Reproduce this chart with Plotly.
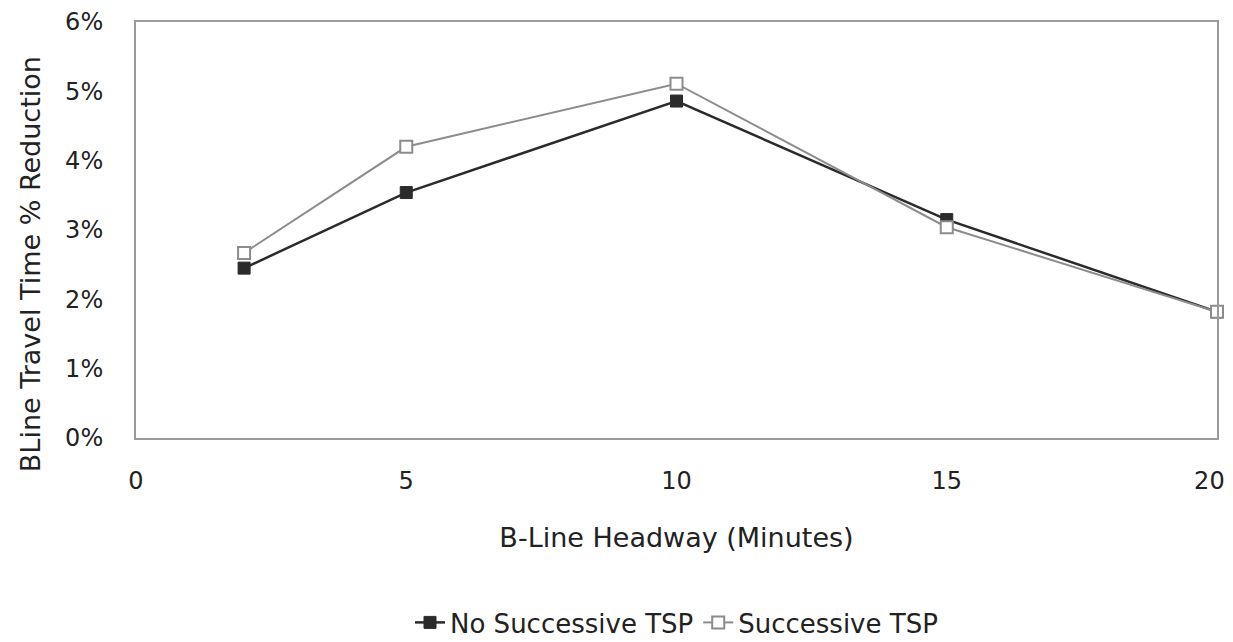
import plotly.graph_objects as go

headway = [2, 5, 10, 15, 20]
no_successive = [0.0245, 0.0354, 0.0486, 0.0315, 0.0182]
successive = [0.0267, 0.0420, 0.0511, 0.0304, 0.0182]
y_ticks = [0, 0.01, 0.02, 0.03, 0.04, 0.05, 0.06]
x_ticks = [0, 5, 10, 15, 20]
x_tick_labels = ["0", "5", "10", "15", "20"]

FONT = "DejaVu Sans, sans-serif"

fig = go.Figure()
fig.add_trace(go.Scatter(
    x=headway, y=no_successive, mode="lines+markers", name="No Successive TSP",
    line=dict(color="#2b2b2b", width=2.5),
    marker=dict(symbol="square", size=12, color="#2b2b2b", line=dict(color="#2b2b2b", width=1)),
    cliponaxis=False,
))
fig.add_trace(go.Scatter(
    x=headway, y=successive, mode="lines+markers", name="Successive TSP",
    line=dict(color="#8c8c8c", width=2),
    marker=dict(symbol="square", size=12, color="white", line=dict(color="#8c8c8c", width=2)),
    cliponaxis=False,
))

# last x tick label padded so it is not clipped at the right page edge
ticktext = x_tick_labels[:-1] + [x_tick_labels[-1] + "\u00a0\u00a0"]

# page body has an 8px default margin; figure is sized/offset to compensate
fig.update_layout(
    width=1225, height=634,
    margin=dict(l=128, r=16, t=14, b=204, autoexpand=False),
    paper_bgcolor="white", plot_bgcolor="white",
    font=dict(family=FONT, size=24, color="#222"),
    showlegend=True,
    legend=dict(orientation="h", x=0.5, xanchor="center", y=-0.500, yanchor="bottom",
                font=dict(size=26)),
    xaxis=dict(range=[0, 20], tickvals=x_ticks, ticktext=ticktext, showgrid=False, zeroline=False,
               showline=True, linecolor="#9a9a9a", linewidth=2, mirror=True,
               ticks="outside", ticklen=20, tickcolor="rgba(0,0,0,0)", automargin=False,
               ticklabeloverflow="allow",
               title=dict(text="B-Line Headway (Minutes)", standoff=34, font=dict(size=27))),
    yaxis=dict(range=[0, 0.06], tickvals=y_ticks, tickformat=".0%", showgrid=False,
               zeroline=False, showline=True, linecolor="#9a9a9a", linewidth=2, mirror=True,
               ticks="outside", ticklen=26, tickcolor="rgba(0,0,0,0)", automargin=False,
               ticklabeloverflow="allow"),
    annotations=[dict(text="BLine Travel Time % Reduction", textangle=-90,
                      xref="paper", yref="paper", x=-0.098, y=0.418,
                      xanchor="center", yanchor="middle", showarrow=False,
                      font=dict(size=27))],
)

fig.write_html("out.html")
